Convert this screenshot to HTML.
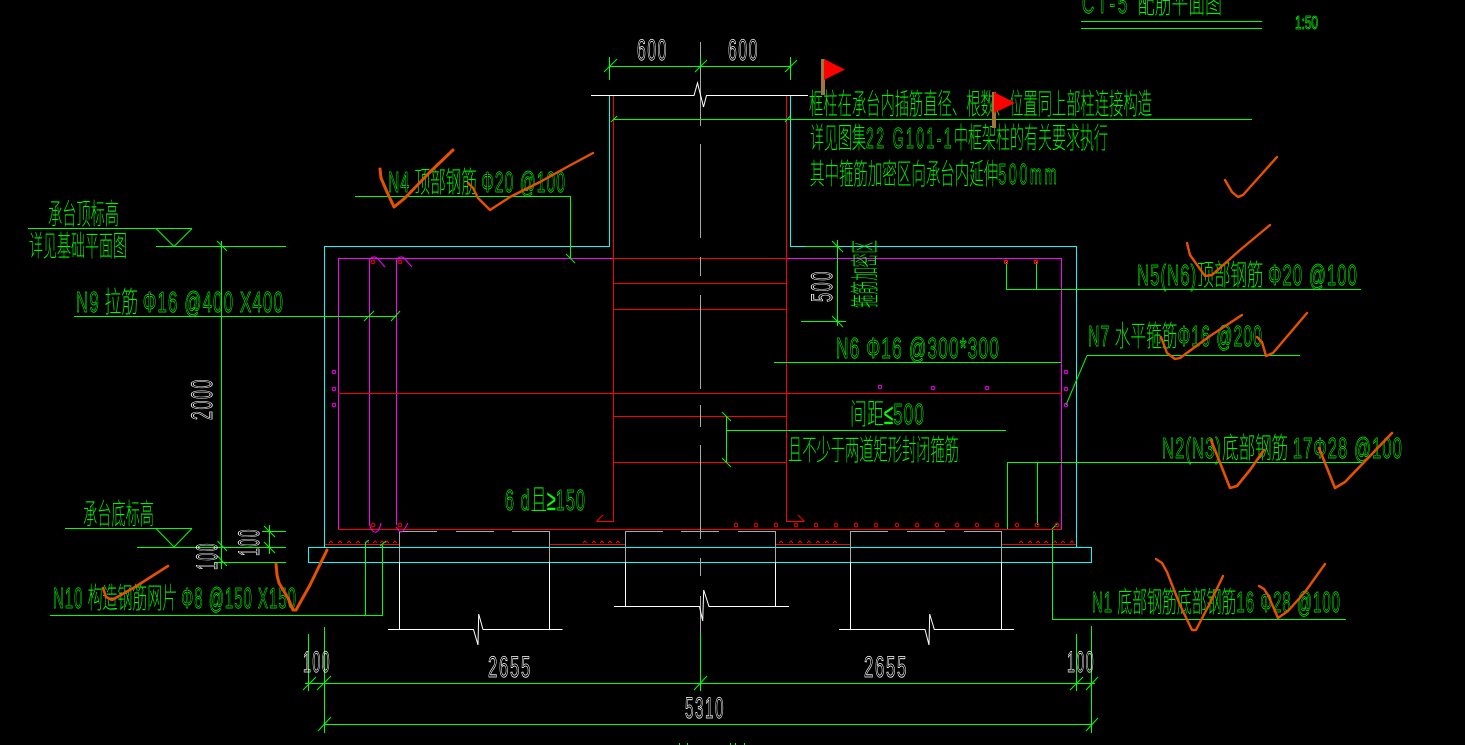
<!DOCTYPE html>
<html><head><meta charset="utf-8"><style>
html,body{margin:0;padding:0;background:#000;width:1465px;height:745px;overflow:hidden}
svg{display:block}
.l line,.l polyline,.l path{fill:none;stroke-width:1;shape-rendering:crispEdges}
.g{stroke:#0f0}.c{stroke:#0ff}.r{stroke:#f00}.m{stroke:#f0f}.w{stroke:#fff}.y{stroke:#aaa}
text{font-family:"Liberation Sans","Noto Sans CJK SC",sans-serif;font-weight:100}
.tg text{fill:#0f0;stroke:#0f0;stroke-width:.3}
.tg .o{fill:none;stroke:#0f0;stroke-width:.8;letter-spacing:2px}
.tw text{fill:none;stroke:#fff;stroke-width:.85;letter-spacing:3px}
.ck{fill:none;stroke:#e65100;stroke-width:2.4;stroke-linejoin:round;stroke-linecap:round}
</style></head><body>
<svg width="1465" height="745" viewBox="0 0 1465 745" xmlns="http://www.w3.org/2000/svg">
<rect width="1465" height="745" fill="#000"/>
<g class="l">
<polyline class="c" points="609.5,95.5 609.5,246.5 324.5,246.5 324.5,547.5"/>
<polyline class="c" points="790.5,95.5 790.5,246.5 1076.5,246.5 1076.5,547.5"/>
<path class="c" d="M308.5 547.5H1091.5V562.5H308.5Z"/>
<polyline class="m" points="338.5,529.5 338.5,258.5 1061.5,258.5 1061.5,529.5"/>
<line class="m" x1="369.5" y1="260" x2="369.5" y2="525"/>
<line class="m" x1="396.5" y1="260" x2="396.5" y2="525"/>
<line class="r" x1="338" y1="529.5" x2="1062" y2="529.5"/>
<line class="r" x1="338" y1="393.5" x2="1062" y2="393.5"/>
<line class="r" x1="613" y1="258.5" x2="787" y2="258.5"/>
<line class="r" x1="613" y1="283.5" x2="787" y2="283.5"/>
<line class="r" x1="613" y1="309.5" x2="787" y2="309.5"/>
<line class="r" x1="613" y1="416.5" x2="787" y2="416.5"/>
<line class="r" x1="613" y1="462.5" x2="787" y2="462.5"/>
<polyline class="r" points="613.5,96 613.5,521.5 596.5,521.5"/>
<polyline class="r" points="786.5,96 786.5,521.5 804.5,521.5"/>
<path class="r" style="shape-rendering:auto" d="M596.5 521.5L603 515M804.5 521.5L798 515"/>
<line class="r" x1="325" y1="544.5" x2="399" y2="544.5"/>
<line class="r" x1="549" y1="544.5" x2="626" y2="544.5"/>
<line class="r" x1="776" y1="544.5" x2="850" y2="544.5"/>
<line class="r" x1="1002" y1="544.5" x2="1076" y2="544.5"/>
<path class="r" d="M329 543l2-2 2 2M338 543l2-2 2 2M347 543l2-2 2 2M356 543l2-2 2 2M365 543l2-2 2 2M373 543l2-2 2 2M380 543l2-2 2 2M385 543l2-2 2 2M393 543l2-2 2 2M583 543l2-2 2 2M592 543l2-2 2 2M600 543l2-2 2 2M608 543l2-2 2 2M616 543l2-2 2 2M779 543l2-2 2 2M789 543l2-2 2 2M798 543l2-2 2 2M807 543l2-2 2 2M816 543l2-2 2 2M825 543l2-2 2 2M833 543l2-2 2 2M1019 543l2-2 2 2M1028 543l2-2 2 2M1036 543l2-2 2 2M1044 543l2-2 2 2M1053 543l2-2 2 2M1061 543l2-2 2 2M1070 543l2-2 2 2"/>
<path class="y" d="M700.5 42V126M700.5 144V238M700.5 257V276M700.5 295V389M700.5 405V427M700.5 445V539M700.5 558V576M700.5 596V634"/>
<line class="g" x1="700.5" y1="634" x2="700.5" y2="691"/>
<polyline class="w" style="shape-rendering:auto" points="591,95.5 694,95.5 697.5,83 703.5,107 706.5,95.5 808,95.5"/>
<path class="y" d="M399.5 531.5H437M456 531.5H494M512 531.5H549.5M625.5 531.5H663M681 531.5H719M738 531.5H775.5M850.5 531.5H888M907 531.5H945M964 531.5H1001.5"/>
<path class="y" d="M399.5 531V562M549.5 531V562M625.5 531V562M775.5 531V562M850.5 531V562M1001.5 531V562"/>
<path class="w" d="M399.5 562V629M549.5 562V629M625.5 562V606M775.5 562V606M850.5 562V629M1001.5 562V629"/>
<polyline class="w" style="shape-rendering:auto" points="388,629.5 473.5,629.5 478,645 478.7,614 483,629.5 562.5,629.5"/>
<polyline class="w" style="shape-rendering:auto" points="614,606.5 699.5,606.5 702.7,621 703.7,590 709,606.5 789,606.5"/>
<polyline class="w" style="shape-rendering:auto" points="839,629.5 925,629.5 929,645 929.7,614 934.3,629.5 1014,629.5"/>
<line class="g" x1="609" y1="66.5" x2="791" y2="66.5"/>
<path class="g" d="M609.5 57V80M790.5 57V80M700.5 57V66"/>
<path class="g" style="shape-rendering:auto" d="M604 72L617 59M695 72L707 60M785 72L797 60"/>
<line class="g" x1="613" y1="119.5" x2="1252" y2="119.5"/>
<path class="g" style="shape-rendering:auto" d="M611 122L617 116M785 122L790 116"/>
<path class="g" d="M1081 21.5H1262M1081 28.5H1262"/>
<line class="g" x1="28" y1="228.5" x2="192" y2="228.5"/>
<line class="g" x1="156" y1="246.5" x2="286" y2="246.5"/>
<path class="g" style="shape-rendering:auto" d="M156 228.5L174 246.5L192 228.5M217 241L227 251M217.5 541L227 551M217.5 556L227 566"/>
<line class="g" x1="221.5" y1="241" x2="221.5" y2="569"/>
<line class="g" x1="74" y1="316.5" x2="397" y2="316.5"/>
<path class="g" style="shape-rendering:auto" d="M364 321L374 311M391 321L400 311"/>
<polyline class="g" points="355,196.5 570.5,196.5 570.5,258"/>
<path class="g" style="shape-rendering:auto" d="M566 254L575 263"/>
<line class="g" x1="65" y1="528.5" x2="192" y2="528.5"/>
<line class="g" x1="137" y1="547.5" x2="286" y2="547.5"/>
<line class="g" x1="214" y1="562.5" x2="286" y2="562.5"/>
<line class="g" x1="262" y1="531.5" x2="286" y2="531.5"/>
<line class="g" x1="269.5" y1="525" x2="269.5" y2="554"/>
<path class="g" style="shape-rendering:auto" d="M264 526L275 537M264 542L275 553"/>
<path class="g" style="shape-rendering:auto" d="M156 528.5L174 547L192 528.5"/>
<polyline class="g" points="50,615.5 382.5,615.5 382.5,545"/>
<line class="g" x1="365.5" y1="542" x2="365.5" y2="615"/>
<path class="g" d="M305 683.5H1095M324.5 724.5H1092M308.5 634V691M324.5 627V733M1076.5 634V691M1091.5 626V733"/>
<path class="g" style="shape-rendering:auto" d="M303 690L316 677M317 690L331 676M694 690L707 676M1070 690L1083 677M1086 690L1098 677M318 731L331 717M1086 731L1098 718"/>
<path class="g" d="M806 246.5H838M801 321.5H846M837.5 240V326"/>
<path class="g" style="shape-rendering:auto" d="M832 241L843 252M832 316L843 327"/>
<line class="g" x1="774" y1="362.5" x2="1061" y2="362.5"/>
<polyline class="g" points="1006.5,262 1006.5,289.5 1361,289.5"/>
<line class="g" x1="1036.5" y1="262" x2="1036.5" y2="289"/>
<line class="g" x1="1087" y1="355.5" x2="1300" y2="355.5"/>
<polyline class="g" style="shape-rendering:auto" points="1087,355.5 1066,405"/>
<polyline class="g" points="1007.5,529 1007.5,462.5 1361,462.5"/>
<line class="g" x1="1037.5" y1="462" x2="1037.5" y2="525"/>
<polyline class="g" points="1052.5,530 1052.5,619.5 1346,619.5"/>
<path class="g" style="shape-rendering:auto" d="M1052 529L1058 523M365 543L369 540M380 546L386 541"/>
<path class="g" d="M726.5 416V462M726.5 430.5H1006"/>
<path class="g" style="shape-rendering:auto" d="M722 412L731 421M722 458L731 467"/>
<path class="g" d="M679.5 743V745M687.5 743V745M730.5 743V745M735.5 743V745M744.5 743V745"/>
</g>
<g fill="none" stroke="#f00" stroke-width="1">
<circle cx="373" cy="262" r="1.8"/><circle cx="400" cy="262" r="1.8"/><circle cx="373" cy="525" r="1.8"/><circle cx="400" cy="525" r="1.8"/>
<circle cx="736" cy="525" r="1.8"/><circle cx="756" cy="525" r="1.8"/><circle cx="776" cy="525" r="1.8"/><circle cx="796" cy="525" r="1.8"/><circle cx="816" cy="525" r="1.8"/><circle cx="836" cy="525" r="1.8"/><circle cx="856" cy="525" r="1.8"/><circle cx="876" cy="525" r="1.8"/><circle cx="897" cy="525" r="1.8"/><circle cx="917" cy="525" r="1.8"/><circle cx="937" cy="525" r="1.8"/><circle cx="957" cy="525" r="1.8"/><circle cx="977" cy="525" r="1.8"/><circle cx="997" cy="525" r="1.8"/><circle cx="1017" cy="525" r="1.8"/><circle cx="1037" cy="525" r="1.8"/><circle cx="1057" cy="525" r="1.8"/>
</g>
<g fill="none" stroke="#f0f" stroke-width="1">
<circle cx="334" cy="372" r="1.8"/><circle cx="334" cy="389" r="1.8"/><circle cx="334" cy="405" r="1.8"/>
<circle cx="1066" cy="372" r="1.8"/><circle cx="1066" cy="389" r="1.8"/><circle cx="1066" cy="405" r="1.8"/>
<circle cx="880" cy="387" r="1.8"/><circle cx="933" cy="388" r="1.8"/><circle cx="987" cy="388" r="1.8"/>
<path d="M369.5 260Q373 255 377 258L385 267M396.5 260Q400 255 404 258L412 267M369.5 525Q373 535 378 531L380 527L381 523M396.5 527Q400 535 404 530L408 523"/>
</g>
<path d="M1004.5 260.5h3v3h-3zM1034.5 260.5h3v3h-3z" fill="none" stroke="#f00"/>
<g class="tg" font-size="29">
<text x="48" y="224" textLength="71" lengthAdjust="spacingAndGlyphs">承台顶标高</text>
<text x="29" y="256" textLength="98" lengthAdjust="spacingAndGlyphs">详见基础平面图</text>
<text x="76" y="312" textLength="208" lengthAdjust="spacingAndGlyphs"><tspan class="o">N9</tspan>  拉筋 <tspan class="o">Φ16 @400 X400</tspan></text>
<text x="388" y="192" textLength="178" lengthAdjust="spacingAndGlyphs"><tspan class="o">N4</tspan> 顶部钢筋 <tspan class="o">Φ20 @100</tspan></text>
<text x="809" y="114" textLength="343" lengthAdjust="spacingAndGlyphs">框柱在承台内插筋直径、根数、位置同上部柱连接构造</text>
<text x="810" y="148" textLength="298" lengthAdjust="spacingAndGlyphs">详见图集<tspan class="o" style="letter-spacing:5px">22 G101-1</tspan>中框架柱的有关要求执行</text>
<text x="810" y="184" textLength="249" lengthAdjust="spacingAndGlyphs">其中箍筋加密区向承台内延伸<tspan class="o" style="letter-spacing:5px">500mm</tspan></text>
<text x="1082" y="13" textLength="140" lengthAdjust="spacingAndGlyphs"><tspan class="o" style="letter-spacing:5px">CT-5 </tspan>配筋平面图</text>
<text x="1295" y="29" font-size="18" textLength="23" lengthAdjust="spacingAndGlyphs"><tspan class="o" style="letter-spacing:0">1:50</tspan></text>
<text x="1137" y="285" textLength="221" lengthAdjust="spacingAndGlyphs"><tspan class="o">N5(N6)</tspan>顶部钢筋 <tspan class="o">Φ20 @100</tspan></text>
<text x="1088" y="346" textLength="175" lengthAdjust="spacingAndGlyphs"><tspan class="o">N7</tspan>  水平箍筋<tspan class="o">Φ16 @200</tspan></text>
<text x="836" y="358" textLength="164" lengthAdjust="spacingAndGlyphs"><tspan class="o">N6  Φ16 @300*300</tspan></text>
<text x="850" y="424" textLength="75" lengthAdjust="spacingAndGlyphs">间距≤<tspan class="o">500</tspan></text>
<text x="788" y="460" textLength="171" lengthAdjust="spacingAndGlyphs">且不少于两道矩形封闭箍筋</text>
<text x="505" y="510" textLength="81" lengthAdjust="spacingAndGlyphs"><tspan class="o">6 d</tspan>且≥<tspan class="o">150</tspan></text>
<text x="1162" y="458" textLength="241" lengthAdjust="spacingAndGlyphs"><tspan class="o">N2(N3)</tspan>底部钢筋 <tspan class="o">17Φ28 @100</tspan></text>
<text x="1092" y="612" textLength="249" lengthAdjust="spacingAndGlyphs"><tspan class="o">N1</tspan>  底部钢筋底部钢筋<tspan class="o">16 Φ28 @100</tspan></text>
<text x="83" y="524" textLength="71" lengthAdjust="spacingAndGlyphs">承台底标高</text>
<text x="53" y="608" textLength="244" lengthAdjust="spacingAndGlyphs"><tspan class="o">N10</tspan> 构造钢筋网片 <tspan class="o">Φ8 @150 X150</tspan></text>
<text transform="translate(875,308) rotate(-90)" font-size="29" textLength="68" lengthAdjust="spacingAndGlyphs">箍筋加密区</text>
</g>
<g class="tw" font-size="30">
<text x="637" y="60" textLength="31" lengthAdjust="spacingAndGlyphs">600</text>
<text x="728" y="60" textLength="31" lengthAdjust="spacingAndGlyphs">600</text>
<text transform="translate(832,302) rotate(-90)" textLength="32" lengthAdjust="spacingAndGlyphs">500</text>
<text transform="translate(212,420) rotate(-90)" textLength="42" lengthAdjust="spacingAndGlyphs">2000</text>
<text transform="translate(259,556) rotate(-90)" textLength="28" lengthAdjust="spacingAndGlyphs">100</text>
<text transform="translate(217,570) rotate(-90)" textLength="28" lengthAdjust="spacingAndGlyphs">100</text>
<text x="303" y="672" textLength="28" lengthAdjust="spacingAndGlyphs">100</text>
<text x="1067" y="672" textLength="28" lengthAdjust="spacingAndGlyphs">100</text>
<text x="488" y="677" textLength="44" lengthAdjust="spacingAndGlyphs">2655</text>
<text x="864" y="677" textLength="44" lengthAdjust="spacingAndGlyphs">2655</text>
<text x="685" y="718" textLength="40" lengthAdjust="spacingAndGlyphs">5310</text>
</g>
<rect x="821" y="59" width="4" height="36" fill="#a5743a"/>
<polygon points="824,59 845,69.5 824,80" fill="#f00"/>
<rect x="992" y="92" width="4" height="36" fill="#a5743a"/>
<polygon points="994,92 1015,103 994,113" fill="#f00"/>
<g class="ck">
<polyline style="stroke-width:3" points="380,169 381,178 387,192 394,207 405,198 430,172 453,150"/>
<polyline points="468,183 473,188 478,198 490,210 510,197 540,182 567,167 593,153"/>
<polyline points="1225,180 1232,192 1238,197 1243,195 1260,176 1277,157"/>
<polyline points="1187,243 1190,255 1205,276 1212,275 1240,250 1270,225"/>
<polyline points="1161,337 1167,353 1175,359 1180,358 1210,336 1242,315"/>
<polyline points="1257,337 1262,342 1266,356 1273,353 1290,333 1307,313"/>
<polyline style="stroke-width:2.6" points="1211,440 1230,488 1237,486 1250,470 1264,450"/>
<polyline style="stroke-width:2.6" points="1319,448 1335,488 1345,482 1370,456 1392,433"/>
<polyline points="1156,559 1162,563 1167,572 1180,605 1192,630 1196,630 1210,603 1223,576"/>
<polyline points="1259,586 1264,589 1268,595 1278,618 1288,611 1305,592 1325,564"/>
<polyline style="stroke-width:2.6" points="103,588 106,597 112,600 135,587 168,566"/>
<polyline style="stroke-width:3" points="276,564 277,575 279,583 288,598 293,610 296,610 310,585 327,550"/>
</g>
</svg>
</body></html>
